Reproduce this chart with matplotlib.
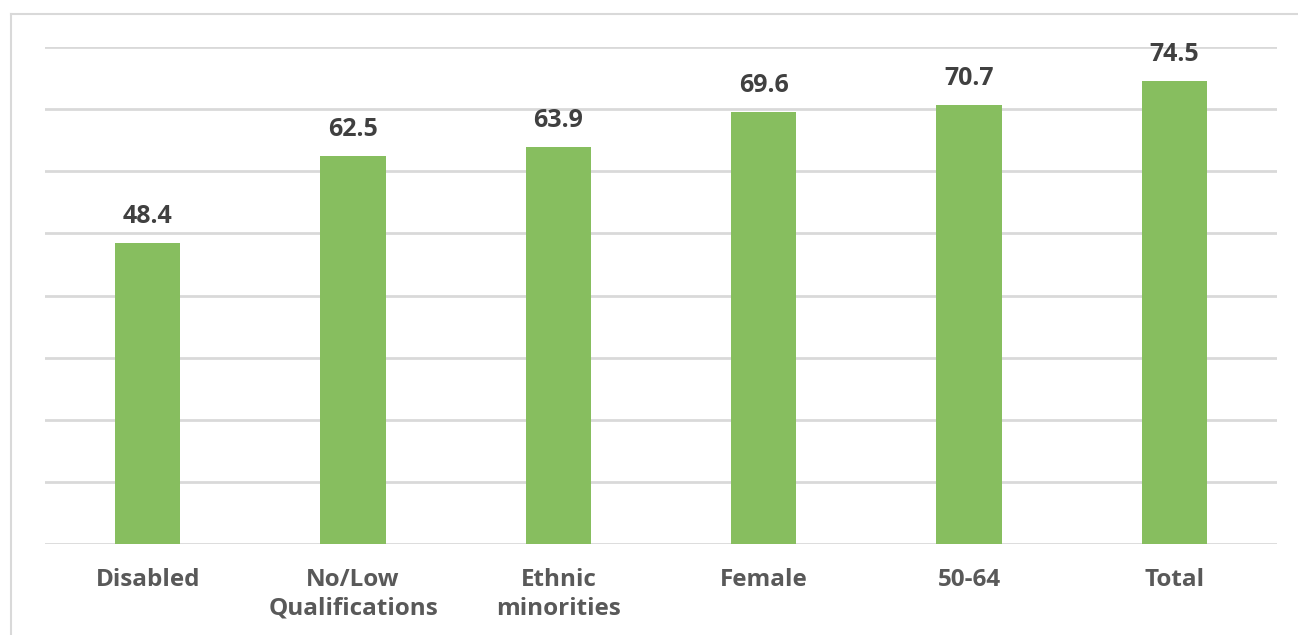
import matplotlib
matplotlib.use("Agg")
import matplotlib.pyplot as plt
from matplotlib.lines import Line2D

categories = ["Disabled", "No/Low\nQualifications", "Ethnic\nminorities", "Female", "50-64", "Total"]
values = [48.4, 62.5, 63.9, 69.6, 70.7, 74.5]

W, H = 1298, 635
fig = plt.figure(figsize=(W/100, H/100), dpi=100)
ax = fig.add_axes([45/W, 1-544/H, (1277-45)/W, (544-47)/H])

bar_color = "#87BE5F"
x = range(len(categories))
ax.bar(x, values, width=0.317, color=bar_color, zorder=3)
ax.set_xlim(-0.5, len(categories)-0.5)
ax.set_ylim(0, 80)
ax.set_yticks(range(0, 81, 10))
ax.yaxis.grid(True, color="#D9D9D9", linewidth=2.0, zorder=0)
ax.tick_params(axis="y", left=False, labelleft=False)
ax.tick_params(axis="x", bottom=False, pad=14)
ax.set_xticks(list(x))
ax.set_xticklabels(categories, fontsize=17.5, fontweight="bold", color="#595959",
                   family="Open Sans", linespacing=1.25, va="top")
for s in ax.spines.values():
    s.set_visible(False)

for xi, v in zip(x, values):
    ax.annotate(f"{v:.1f}", (xi, v), xytext=(0, 10), textcoords="offset points",
                ha="center", va="bottom", fontsize=18, fontweight="bold",
                color="#404040", family="Open Sans", zorder=4)

# outer frame (top and left edges visible)
fig.add_artist(Line2D([10.5/W, 10.5/W], [0, 1-13.5/H], transform=fig.transFigure,
                      color="#D9D9D9", linewidth=1.5))
fig.add_artist(Line2D([10.5/W, 1], [1-13.5/H, 1-13.5/H], transform=fig.transFigure,
                      color="#D9D9D9", linewidth=1.5))

fig.savefig("out.png", dpi=100)
